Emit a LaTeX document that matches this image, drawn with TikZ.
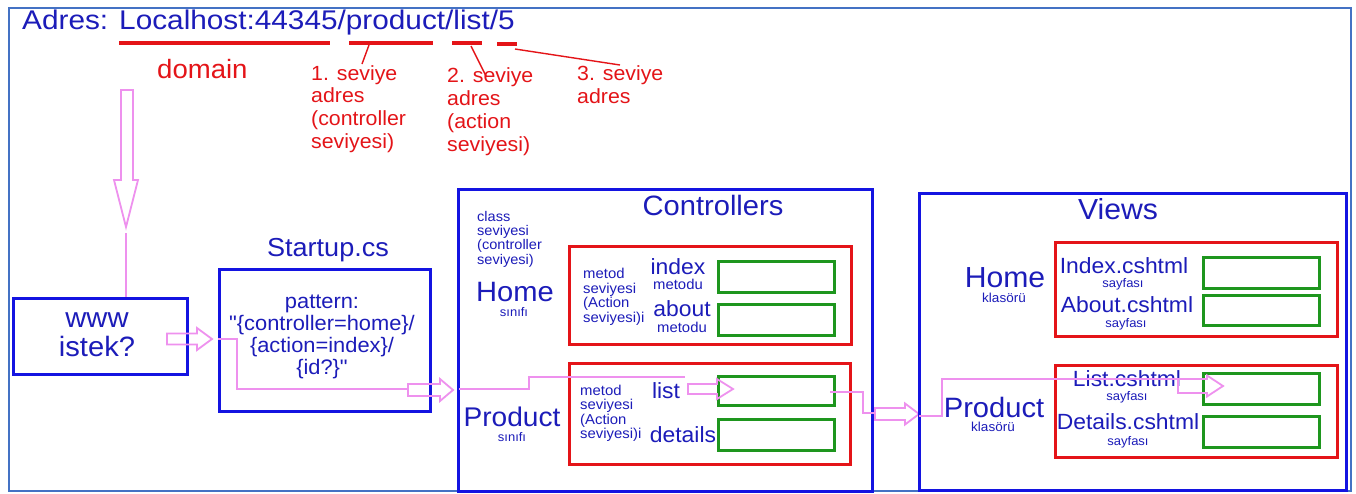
\documentclass[tikz,border=0pt]{standalone}
\usepackage{fontspec}
\setmainfont{Liberation Sans}[FakeStretch=1.04]
\newfontface\qfont{Liberation Sans}[FakeStretch=1.04]
\usepackage{graphicx}
\definecolor{frameblue}{RGB}{68,114,196}
\definecolor{boxblue}{RGB}{20,20,225}
\definecolor{txtblue}{RGB}{28,28,185}
\definecolor{myred}{RGB}{228,20,24}
\definecolor{mygreen}{RGB}{30,150,30}
\definecolor{mypink}{RGB}{238,145,238}
\newcommand\fsz[2]{\fontsize{#1}{#2}\selectfont}
\newcommand\dq{{\qfont\symbol{34}}}
% #1 style, #2 name, #3 x1, #4 y1, #5 x2, #6 y2
\newcommand\boxnode[6]{\node[#1, anchor=north west, minimum width={(#5-#3)*1pt}, minimum height={(#6-#4)*1pt}] (#2) at (#3,#4) {};}
% hollow arrow: #1 x start, #2 x tip, #3 y, #4 shaft half, #5 head half, #6 head length
\newcommand\harrow[6]{\draw[pinkline] (#1,#3-#4) -- (#2-#6,#3-#4) -- (#2-#6,#3-#5) -- (#2,#3) -- (#2-#6,#3+#5) -- (#2-#6,#3+#4) -- (#1,#3+#4) -- cycle;}
\tikzset{
  bluebox/.style={draw=boxblue, line width=2.6pt, inner sep=0pt},
  redbox/.style={draw=myred, line width=2.6pt, inner sep=0pt},
  greenbox/.style={draw=mygreen, line width=2.6pt, inner sep=0pt},
  pinkline/.style={draw=mypink, line width=1.8pt, line join=miter},
  redline/.style={draw=myred, line width=1.4pt},
  redbar/.style={draw=myred, line width=4pt},
  lbl/.style={text=txtblue, inner sep=0pt, align=center},
  redlbl/.style={text=myred, inner sep=0pt, align=left},
}
\begin{document}
\begin{tikzpicture}[x=1pt,y=-1pt]
\useasboundingbox (0,0) rectangle (1356,493);
\fill[white] (0,0) rectangle (1356,493);
\draw[frameblue, line width=2.2pt] (9,8) rectangle (1351,491);

% title
\node[lbl, anchor=base west, font=\fsz{27}{30}] (title) at (22,29) {\scalebox{1.06}[1]{Adres: Localhost:44345/product/list/5}};

% red underlines
\draw[redbar] (119,43) -- (330,43);
\draw[redbar] (349,43) -- (433,43);
\draw[redbar] (452,43) -- (482,43);
\draw[redbar] (497,44) -- (517,44);
\coordinate (u1) at (369,45);
\coordinate (u2) at (471,46);
\coordinate (u3) at (515,49);

\node[redlbl, anchor=base west, font=\fsz{26.5}{28}] (domain) at (157,78) {domain};
\node[redlbl, anchor=west, font=\fsz{20.5}{22.8}] (lev1) at (311,109) {1. seviye\\adres\\(controller\\seviyesi)};
\node[redlbl, anchor=west, font=\fsz{20.5}{22.8}] (lev2) at (447,111.5) {2. seviye\\adres\\(action\\seviyesi)};
\node[redlbl, anchor=west, font=\fsz{20.5}{22.8}] (lev3) at (577,85) {3. seviye\\adres};
\coordinate (l1) at (362,64);
\coordinate (l2) at (486,76);
\coordinate (l3) at (620,65);
\draw[redline] (u1) -- (l1);
\draw[redline] (u2) -- (l2);
\draw[redline] (u3) -- (l3);

% down arrow
\draw[pinkline] (121,90) -- (133,90) -- (133,180) -- (138,180) -- (126,227) -- (114,180) -- (121,180) -- cycle;

% www box
\boxnode{bluebox}{www}{12}{297}{186}{373}
\node[lbl, font=\fsz{28}{29}] (wwwt) at (97,335) {www\\istek?};
\coordinate (dtail) at (126,233);
\draw[pinkline] (dtail) -- (www.north -| dtail);

% arrow www -> startup
\harrow{167}{212}{339}{5.5}{11}{15}

% Startup
\boxnode{bluebox}{startup}{218}{268}{429}{410}
\node[lbl, font=\fsz{26}{28}] (startupt) at (328,250) {Startup.cs};
\node[lbl, font=\fsz{21}{22}] (pattern) at (322,337) {pattern:\\\dq\{controller=home\}/\\\{action=index\}/\\\{id?\}\dq};
\coordinate (p1) at (218,339);
\coordinate (p2) at (408,389);
\draw[pinkline] (p1) -- (237,339) -- (237,389) -- (p2);
\harrow{408}{453}{390}{6}{11}{13}

% Controllers
\boxnode{bluebox}{ctrl}{457}{188}{871}{490}
\node[lbl, font=\fsz{28}{30}] (ctrlt) at (713,205) {Controllers};
\node[lbl, anchor=west, align=left, font=\fsz{14}{14.4}] (classlv) at (477,239) {class\\seviyesi\\(controller\\seviyesi)};
\node[lbl, font=\fsz{28}{30}] (chome) at (515,292) {Home};
\node[lbl, font=\fsz{12.5}{13}] (chomes) at (514,312) {sınıfı};
\node[lbl, font=\fsz{27}{30}] (cprod) at (512,417) {Product};
\node[lbl, font=\fsz{12.5}{13}] (cprods) at (512,437) {sınıfı};

\boxnode{redbox}{chr}{568}{245}{850}{343}
\boxnode{redbox}{cpr}{568}{362}{849}{463}
\boxnode{greenbox}{g1}{717}{260}{833}{291}
\boxnode{greenbox}{g2}{717}{303}{833}{334}
\boxnode{greenbox}{g3}{717}{375}{833}{404}
\boxnode{greenbox}{g4}{717}{418}{833}{449}

\node[lbl, anchor=west, align=left, font=\fsz{14.3}{14.5}] (mh) at (583,297) {metod\\seviyesi\\(Action\\seviyesi)i};
\node[lbl, anchor=west, align=left, font=\fsz{14.3}{14.5}] (mp) at (580,413.5) {metod\\seviyesi\\(Action\\seviyesi)i};
\node[lbl, font=\fsz{22}{24}] (index) at (678,267) {index};
\node[lbl, font=\fsz{14.3}{15}] (indexm) at (678,284) {metodu};
\node[lbl, font=\fsz{22}{24}] (about) at (682,309) {about};
\node[lbl, font=\fsz{14.3}{15}] (aboutm) at (682,327) {metodu};
\node[lbl, font=\fsz{22}{24}] (list) at (666,391) {list};
\node[lbl, font=\fsz{22}{24}] (details) at (683,435) {details};

% pink path in controllers
\coordinate (c1) at (459,389);
\coordinate (c2) at (685,377);
\draw[pinkline] (c1) -- (529,389) -- (529,377) -- (c2);
\harrow{688}{733}{389}{5}{10}{16}
\coordinate (c3) at (830,392);
\coordinate (c4) at (875,413);
\draw[pinkline] (c3) -- (863,392) -- (863,413) -- (c4);
\harrow{875}{919}{414}{6}{10.5}{14}

% Views
\boxnode{bluebox}{views}{918}{192}{1345}{489}
\node[lbl, font=\fsz{29}{30}] (viewst) at (1118,209) {Views};
\node[lbl, font=\fsz{29}{30}] (vhome) at (1005,278) {Home};
\node[lbl, font=\fsz{13}{14}] (vhomek) at (1004,298) {klasörü};
\node[lbl, font=\fsz{28}{30}] (vprod) at (994,407) {Product};
\node[lbl, font=\fsz{13}{14}] (vprodk) at (993,427) {klasörü};

\boxnode{redbox}{vhr}{1054}{241}{1336}{335}
\boxnode{redbox}{vpr}{1054}{364}{1336}{456}
\boxnode{greenbox}{v1}{1202}{256}{1318}{287}
\boxnode{greenbox}{v2}{1202}{294}{1318}{324}
\boxnode{greenbox}{v3}{1202}{372}{1318}{403}
\boxnode{greenbox}{v4}{1202}{415}{1318}{446}

\node[lbl, font=\fsz{22}{24}] (idx) at (1124,266) {Index.cshtml};
\node[lbl, font=\fsz{12.5}{14}] (idxs) at (1123,284.5) {sayfası};
\node[lbl, font=\fsz{22}{24}] (abt) at (1127,305) {About.cshtml};
\node[lbl, font=\fsz{12.5}{14}] (abts) at (1126,324.5) {sayfası};
\node[lbl, font=\fsz{22}{24}] (lst) at (1127,379) {List.cshtml};
\node[lbl, font=\fsz{12.5}{14}] (lsts) at (1127,397.5) {sayfası};
\node[lbl, font=\fsz{22}{24}] (det) at (1128,422) {Details.cshtml};
\node[lbl, font=\fsz{12.5}{14}] (dets) at (1128,442.5) {sayfası};

% pink path in views
\coordinate (w1) at (919,416);
\coordinate (w2) at (1178,379);
\draw[pinkline] (w1) -- (942,416) -- (942,379) -- (w2);
\harrow{1178}{1223}{386}{7}{10.5}{16}
\end{tikzpicture}
\end{document}
